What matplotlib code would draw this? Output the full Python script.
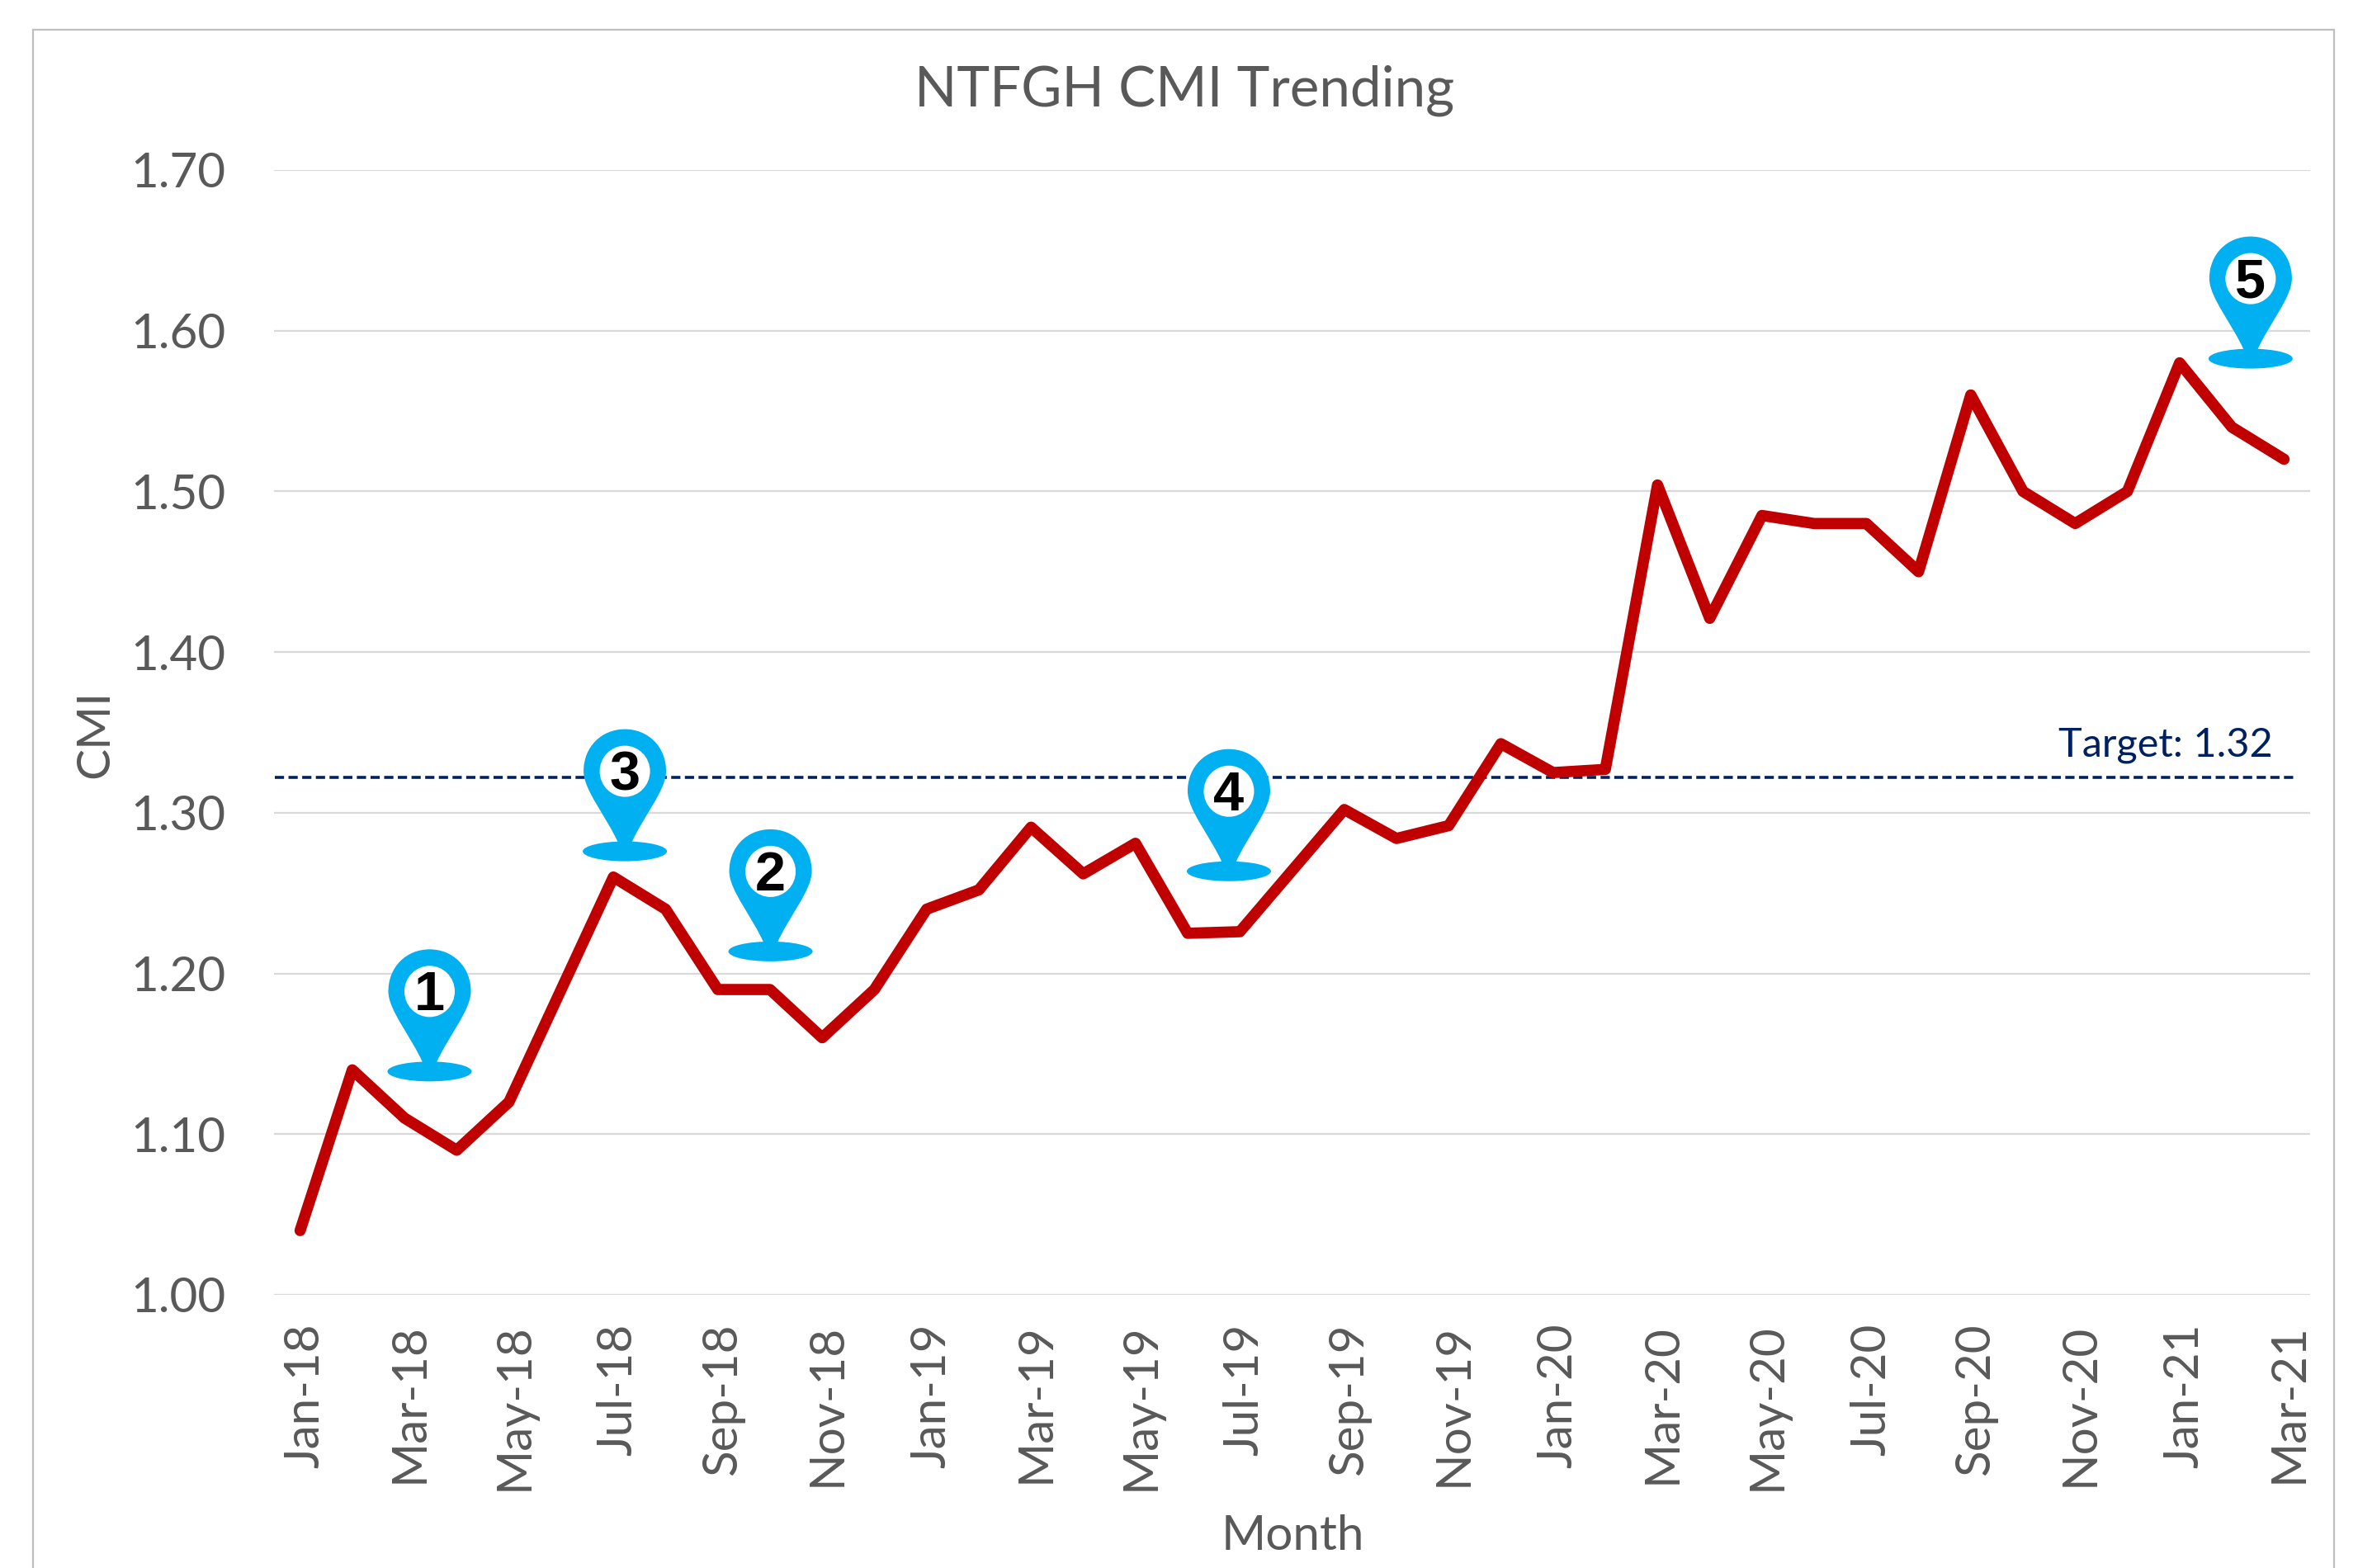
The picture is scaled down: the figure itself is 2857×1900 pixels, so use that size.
import matplotlib
matplotlib.use("Agg")
import matplotlib.pyplot as plt
from matplotlib.path import Path
from matplotlib.patches import PathPatch, Rectangle
from matplotlib.transforms import Affine2D, ScaledTranslation

W, H = 2857, 1900
DPI = 100
FONT = ["Lato", "DejaVu Sans"]
plt.rcParams["font.family"] = FONT

years = ["18", "19", "20", "21"]
month_names = ["Jan", "Feb", "Mar", "Apr", "May", "Jun", "Jul", "Aug", "Sep", "Oct", "Nov", "Dec"]
months = [f"{m}-{y}" for y in years for m in month_names][:39]
cmi = [1.04, 1.14, 1.11, 1.09, 1.12, 1.19, 1.26, 1.24, 1.19, 1.19, 1.16, 1.19,
       1.24, 1.252, 1.291, 1.262, 1.281, 1.225, 1.226, 1.264, 1.302, 1.284, 1.292, 1.343,
       1.325, 1.327, 1.504, 1.421, 1.485, 1.48, 1.48, 1.45, 1.56, 1.50, 1.48, 1.50,
       1.58, 1.54, 1.52]
target = 1.322
target_label = "Target: 1.32"
pin_labels = ["1", "2", "3", "4", "5"]
pin_x = [2.48, 9.01, 6.22, 17.79, 37.36]
pin_y = [1.139, 1.2137, 1.276, 1.2636, 1.5826]

fig = plt.figure(figsize=(W / DPI, H / DPI), dpi=DPI, facecolor="white")
fig.add_artist(Rectangle((40 / W, -0.1), (2828 - 40) / W, 1.1 - 36 / H, transform=fig.transFigure,
                         fill=False, edgecolor="#BFBFBF", linewidth=1.6))
ax = fig.add_axes([332 / W, 1 - 1569 / H, (2799 - 332) / W, (1569 - 206) / H])
ax.set_xlim(-0.5, 38.5)
ax.set_ylim(1.0, 1.7)
ax.set_facecolor("none")
for s in ax.spines.values():
    s.set_visible(False)
ax.grid(axis="y", color="#D9D9D9", linewidth=1.6, zorder=0)
ax.set_axisbelow(True)
ax.tick_params(length=0)
ax.set_yticks([1.0 + 0.1 * i for i in range(8)])
ax.set_yticklabels([f"{1.0 + 0.1 * i:.2f}" for i in range(8)], fontsize=42, color="#595959")
ax.tick_params(axis="y", pad=42)
xs = list(range(len(months)))
ax.set_xticks(xs[::2])
ax.set_xticklabels(months[::2], rotation=90, fontsize=42, color="#595959")
ax.tick_params(axis="x", pad=25)
for t in ax.get_xticklabels():
    t.set_transform(t.get_transform() + Affine2D().translate(6, 0))

ax.plot(xs, cmi, color="#C00000", linewidth=9.8, solid_joinstyle="round", solid_capstyle="round", zorder=3)
px = 72 / DPI
ax.plot([-0.48, 38.2], [target, target], color="#002060", linewidth=3.6 * px,
        linestyle=(0, (3.1, 1.5)), zorder=2)
ax.text(37.78, target + 0.0085, target_label, ha="right", va="bottom", fontsize=35, color="#002060")


def pin_path():
    # local pixels: origin at base-ellipse centre, y up
    M, C, L, Z = Path.MOVETO, Path.CURVE4, Path.LINETO, Path.CLOSEPOLY
    v = [(-8, 10), (-22, 42), (-50, 74), (-50, 97), (-50, 127), (-28, 148), (0, 148), (28, 148), (50, 127), (50, 97),
         (50, 74), (22, 42), (8, 10), (0, 0)]
    c = [M, C, C, C, C, C, C, C, C, C, C, C, C, Z]
    return Path(v, c)


def ellipse(cx, cy, a, b):
    k = 0.5523
    M, C, Z = Path.MOVETO, Path.CURVE4, Path.CLOSEPOLY
    v = [(cx + a, cy), (cx + a, cy + k * b), (cx + k * a, cy + b), (cx, cy + b),
         (cx - k * a, cy + b), (cx - a, cy + k * b), (cx - a, cy), (cx - a, cy - k * b),
         (cx - k * a, cy - b), (cx, cy - b), (cx + k * a, cy - b), (cx + a, cy - k * b), (cx + a, cy), (cx + a, cy)]
    return Path(v, [M] + [C] * 12 + [Z])


for lab, x, y in zip(pin_labels, pin_x, pin_y):
    tr = Affine2D() + ScaledTranslation(x, y, ax.transData)
    ax.add_patch(PathPatch(pin_path(), transform=tr, facecolor="#00B0F0", edgecolor="none", zorder=5, clip_on=False))
    ax.add_patch(PathPatch(ellipse(0, 0, 51, 12), transform=tr, facecolor="#00B0F0", edgecolor="none", zorder=5, clip_on=False))
    ax.add_patch(PathPatch(ellipse(0, 97, 30.5, 31), transform=tr, facecolor="white", edgecolor="none", zorder=6, clip_on=False))
    ax.annotate(lab, (x, y), xytext=(0, 98 * px), textcoords="offset points", ha="center", va="center_baseline",
                fontsize=48, fontweight="bold", family=["Liberation Sans"], color="black", zorder=7)

fig.text(1435 / W, 1 - 110 / H, "NTFGH CMI Trending", ha="center", va="center", fontsize=48.5, color="#595959")
fig.text(1566 / W, 1 - 1862 / H, "Month", ha="center", va="center", fontsize=42, color="#595959")
fig.text(116 / W, 1 - 889 / H, "CMI", ha="center", va="center", rotation=90, fontsize=41, color="#595959")

fig.savefig("out.png", dpi=DPI, facecolor="white")
